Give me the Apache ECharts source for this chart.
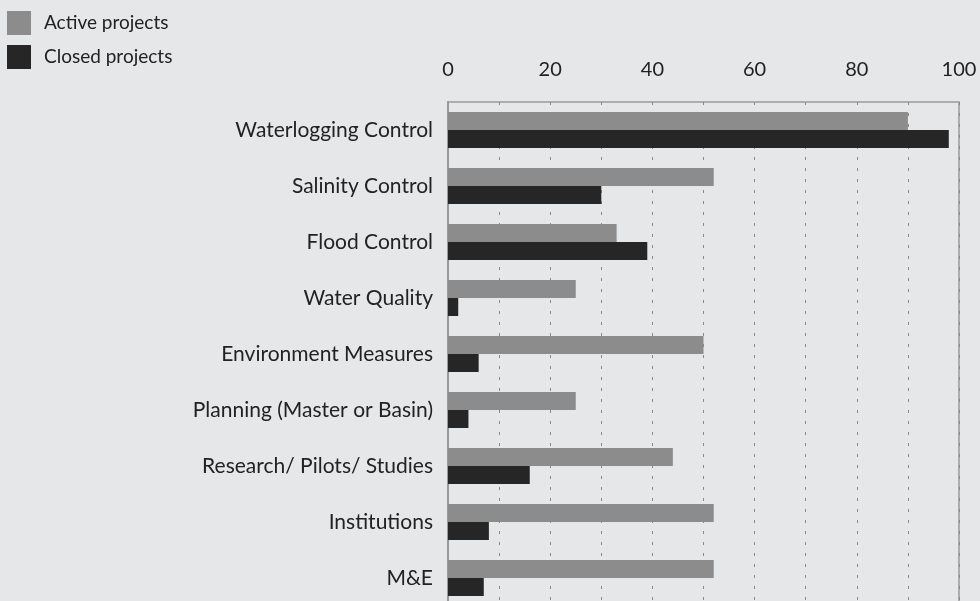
<!DOCTYPE html>
<html>
<head>
<meta charset="utf-8">
<script src="https://cdn.jsdelivr.net/npm/echarts@6/dist/echarts.min.js"></script>
<style>
  html, body { margin: 0; padding: 0; background: #e6e7e8; }
  #chart { width: 980px; height: 601px; }
</style>
</head>
<body>
<div id="chart"></div>
<script>
const categories = [
  'Waterlogging Control',
  'Salinity Control',
  'Flood Control',
  'Water Quality',
  'Environment Measures',
  'Planning (Master or Basin)',
  'Research/ Pilots/ Studies',
  'Institutions',
  'M&E'
]
const activeProjects = [90, 52, 33, 25, 50, 25, 44, 52, 52]
const closedProjects = [98, 30, 39, 2, 6, 4, 16, 8, 7]
const tickLabels = [0, 20, 40, 60, 80, 100]

const font = 'Lato, "Open Sans", sans-serif'
const chart = echarts.init(document.getElementById('chart'), null, { renderer: 'canvas' })

chart.setOption({
  backgroundColor: '#e6e7e8',
  animation: false,
  legend: {
    orient: 'vertical',
    left: 7,
    top: 11,
    padding: 0,
    itemWidth: 24,
    itemHeight: 24,
    itemGap: 10,
    icon: 'rect',
    textStyle: { fontFamily: font, fontSize: 19, color: '#222', padding: [0, 0, 0, 8] },
    data: ['Active projects', 'Closed projects']
  },
  grid: {
    left: 448,
    width: 511,
    top: 102,
    height: 504,
    outerBoundsMode: 'none',
    containLabel: false,
    show: true,
    borderColor: '#9a9a9a',
    borderWidth: 1.5,
    backgroundColor: 'transparent'
  },
  xAxis: {
    type: 'value',
    position: 'top',
    min: 0,
    max: 100,
    interval: 10,
    axisLine: { show: false },
    axisTick: { show: false },
    axisLabel: {
      margin: 22,
      fontFamily: font,
      fontSize: 20,
      color: '#222',
      formatter: v => (tickLabels.includes(v) ? String(v) : '')
    },
    splitLine: {
      show: true,
      lineStyle: { color: '#8a8a8a', width: 1, type: [3, 8] }
    }
  },
  yAxis: {
    type: 'category',
    inverse: true,
    data: categories,
    axisLine: { show: true, lineStyle: { color: '#9a9a9a', width: 2 } },
    axisTick: { show: false },
    axisLabel: { margin: 15, fontFamily: font, fontSize: 21, color: '#222' }
  },
  series: [
    {
      name: 'Active projects',
      type: 'bar',
      data: activeProjects,
      barWidth: 18,
      barGap: '0%',
      itemStyle: { color: '#8c8c8c' }
    },
    {
      name: 'Closed projects',
      type: 'bar',
      data: closedProjects,
      barWidth: 18,
      barGap: '0%',
      itemStyle: { color: '#262626' }
    }
  ]
})
</script>
</body>
</html>
